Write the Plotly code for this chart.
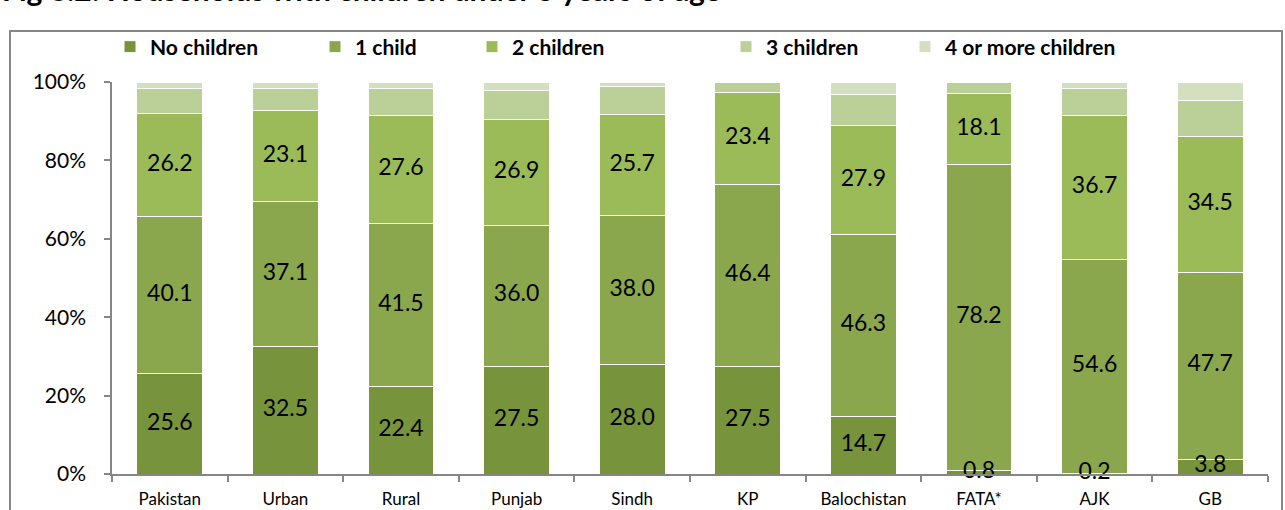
import plotly.graph_objects as go

categories = ["Pakistan", "Urban", "Rural", "Punjab", "Sindh", "KP", "Balochistan", "FATA*", "AJK", "GB"]
no_children = [25.6, 32.5, 22.4, 27.5, 28.0, 27.5, 14.7, 0.8, 0.2, 3.8]
one_child = [40.1, 37.1, 41.5, 36.0, 38.0, 46.4, 46.3, 78.2, 54.6, 47.7]
two_children = [26.2, 23.1, 27.6, 26.9, 25.7, 23.4, 27.9, 18.1, 36.7, 34.5]
three_children = [6.4, 5.6, 6.8, 7.4, 7.1, 2.7, 8.0, 2.9, 6.8, 9.2]
four_plus = [1.7, 1.7, 1.7, 2.2, 1.2, 0.0, 3.1, 0.0, 1.7, 4.8]
y_ticks = [0, 20, 40, 60, 80, 100]
y_tick_labels = ["0%", "20%", "40%", "60%", "80%", "100%"]
title_text = "Fig 8.2: Households with children under 5 years of age"

series = [
    ("No children", no_children, "#77933C", True),
    ("1 child", one_child, "#8BA74E", True),
    ("2 children", two_children, "#9BBB59", True),
    ("3 children", three_children, "#BBCF98", False),
    ("4 or more children", four_plus, "#D3DFBE", False),
]

W, H = 1285, 510
L, R, T, B = 112, 1268, 82, 474
pw, ph = R - L, B - T


def px_x(x):
    return (x - L) / pw


def px_y(y):
    return (B - y) / ph


FONT = "Lato, 'Open Sans', sans-serif"
fig = go.Figure()
legend_px = [126, 331, 488, 742, 921]
legend_names = ["legend", "legend2", "legend3", "legend4", "legend5"]

base = [0.0] * len(categories)
label_x, label_y, label_t = [], [], []
for i, (name, vals, color, show_lbl) in enumerate(series):
    fig.add_trace(go.Bar(
        x=categories, y=vals, name=name,
        marker=dict(color=color, line=dict(color="white", width=1)),
        legend=legend_names[i], hoverinfo="skip",
    ))
    if show_lbl:
        for c, b, v in zip(categories, base, vals):
            label_x.append(c)
            label_y.append(b + v / 2)
            label_t.append(f"{v:.1f}")
    base = [b + v for b, v in zip(base, vals)]

fig.add_trace(go.Scatter(
    x=label_x, y=label_y, text=label_t, mode="text",
    textfont=dict(family=FONT, size=23, color="black"),
    showlegend=False, hoverinfo="skip", cliponaxis=False,
))

layout_legends = {}
for i, ln in enumerate(legend_names):
    layout_legends[ln] = dict(
        x=px_x(legend_px[i] - 16), y=px_y(47), xanchor="left", yanchor="middle",
        orientation="h", bgcolor="rgba(0,0,0,0)", borderwidth=0,
        font=dict(family=FONT, size=21, color="black", weight="bold"),
        itemwidth=30,
    )

fig.update_layout(
    width=W, height=H,
    margin=dict(l=L, r=W - R, t=T, b=H - B, pad=0, autoexpand=False),
    barmode="stack", bargap=0.43,
    plot_bgcolor="white", paper_bgcolor="white",
    showlegend=True,
    **layout_legends,
)

fig.update_xaxes(
    type="category", categoryorder="array", categoryarray=categories,
    showline=True, linecolor="#868686", linewidth=1.5,
    ticks="outside", tickson="boundaries", ticklen=6, tickcolor="#868686", tickwidth=1.5,
    ticklabelstandoff=9,
    tickfont=dict(family=FONT, size=17, color="black"),
    showgrid=False, zeroline=False, fixedrange=True,
)
fig.update_yaxes(
    range=[0, 100], tickvals=y_ticks, ticktext=y_tick_labels,
    showline=True, linecolor="#868686", linewidth=1.5,
    ticks="outside", ticklen=6, tickcolor="#868686", tickwidth=1.5,
    ticklabelstandoff=14,
    tickfont=dict(family=FONT, size=21, color="black"),
    showgrid=False, zeroline=False, fixedrange=True,
)

# outer chart frame
fig.add_shape(
    type="rect", xref="paper", yref="paper",
    x0=px_x(10), x1=px_x(1282), y0=px_y(520), y1=px_y(31),
    line=dict(color="#868686", width=2), fillcolor="rgba(0,0,0,0)", layer="below",
)

fig.add_annotation(
    text=title_text, xref="paper", yref="paper",
    x=px_x(0), y=px_y(9), xanchor="left", yanchor="bottom",
    showarrow=False, font=dict(family=FONT, size=30, color="black", weight="bold"),
)

fig.write_html(
    "out.html",
    config={"displayModeBar": False},
    post_script="document.body.style.margin='0';document.body.style.overflow='hidden';",
)
